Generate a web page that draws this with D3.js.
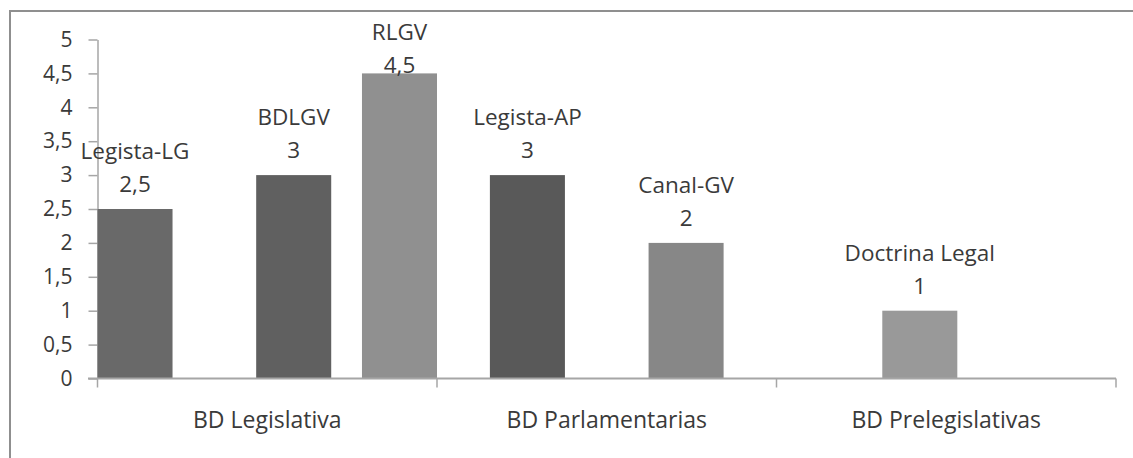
<!DOCTYPE html>
<html>
<head>
<meta charset="utf-8">
<script src="https://cdn.jsdelivr.net/npm/d3@7"></script>
<style>
  body { margin: 0; background: #fff; }
  svg { display: block; font-family: "Open Sans", sans-serif; }
</style>
</head>
<body>
<div id="chartDiv"></div>
<script>
// categories on the x axis
var categories = ["BD Legislativa", "BD Parlamentarias", "BD Prelegislativas"];
// one series per data base, each one only has a value in its own category
var series = ["Legista-LG", "Legista-AP", "Doctrina Legal", "BDLGV", "Canal-GV", "RLGV"];
var seriesCategory = ["BD Legislativa", "BD Parlamentarias", "BD Prelegislativas",
                      "BD Legislativa", "BD Parlamentarias", "BD Legislativa"];
var values = [2.5, 3, 1, 3, 2, 4.5];
var yTicks = [0, 0.5, 1, 1.5, 2, 2.5, 3, 3.5, 4, 4.5, 5];
var colors = ["#696969", "#595959", "#999999", "#606060", "#878787", "#909090"];

var width = 1133,
    height = 458;

var svg = d3.select("#chartDiv")
    .append("svg")
    .attr("width", width)
    .attr("height", height);

// chart frame (cut off at right and bottom like the original)
svg.append("path")
    .attr("d", "M10," + (height + 5) + "V11H" + (width + 5))
    .attr("fill", "none")
    .attr("stroke", "#8f8f8f")
    .attr("stroke-width", 2);

// spanish number format, comma as decimal mark
var locale = d3.formatLocale({decimal: ",", thousands: ".", grouping: [3], currency: ["", "€"]});
var fmt = locale.format("~g");

var x0 = d3.scaleBand()
    .domain(categories)
    .range([97.5, 1116])
    .padding(0);

var barW = x0.bandwidth() * 0.221;

//series slots overlap inside each category
var x1 = d3.scalePoint()
    .domain(series)
    .range([0, x0.bandwidth() - barW]);

var y = d3.scaleLinear()
    .domain([0, 5])
    .range([378.5, 39.5]);

var axisColor = "#a6a6a6";
var textColor = "#3a3a3a";

// y axis
var yAxis = svg.append("g")
    .attr("transform", "translate(97.5,0)")
    .call(d3.axisLeft(y)
        .tickValues(yTicks)
        .tickFormat(fmt)
        .tickSize(9)
        .tickSizeOuter(0)
        .tickPadding(16));
yAxis.select(".domain").attr("stroke", axisColor).attr("stroke-width", 1.5);
yAxis.selectAll(".tick line").attr("stroke", axisColor).attr("stroke-width", 1.5);
yAxis.selectAll(".tick text")
    .attr("fill", textColor)
    .style("font-size", "21px")
    .style("font-family", "'Open Sans', sans-serif");

// bars
var data = series.map(function (s, i) {
    return {name: s, cat: seriesCategory[i], value: values[i], color: colors[i]};
});

svg.append("g")
    .selectAll("rect")
    .data(data)
    .enter().append("rect")
    .attr("x", function (d) { return x0(d.cat) + x1(d.name); })
    .attr("y", function (d) { return y(d.value); })
    .attr("width", barW)
    .attr("height", function (d) { return y(0) - y(d.value); })
    .attr("fill", function (d) { return d.color; });

// x axis
var xAxis = svg.append("g")
    .attr("transform", "translate(0," + y(0) + ")")
    .call(d3.axisBottom(x0).tickSize(0).tickPadding(33));
xAxis.select(".domain").remove();
xAxis.selectAll(".tick text")
    .attr("fill", textColor)
    .style("font-size", "23px")
    .style("font-family", "'Open Sans', sans-serif");

svg.append("line")
    .attr("x1", 88).attr("x2", x0.range()[1])
    .attr("y1", y(0)).attr("y2", y(0))
    .attr("stroke", axisColor)
    .attr("stroke-width", 2);

var bounds = categories.map(function (c) { return x0(c); }).concat([x0.range()[1]]);
svg.append("g")
    .selectAll("line")
    .data(bounds)
    .enter().append("line")
    .attr("x1", function (d) { return d; })
    .attr("x2", function (d) { return d; })
    .attr("y1", y(0))
    .attr("y2", y(0) + 9)
    .attr("stroke", axisColor)
    .attr("stroke-width", 1.5);

// data labels: series name over value, pushed down when they would leave the plot
var labels = svg.append("g")
    .selectAll("text")
    .data(data)
    .enter().append("text")
    .attr("text-anchor", "middle")
    .attr("fill", textColor)
    .style("font-size", "22.5px")
    .attr("x", function (d) { return x0(d.cat) + x1(d.name) + barW / 2; });

labels.each(function (d) {
    var valueBase = y(d.value) - 17;
    var nameBase = Math.max(valueBase - 33, 40);
    valueBase = nameBase + 33;
    var t = d3.select(this);
    t.append("tspan")
        .attr("x", t.attr("x"))
        .attr("y", nameBase)
        .text(d.name);
    t.append("tspan")
        .attr("x", t.attr("x"))
        .attr("y", valueBase)
        .text(fmt(d.value));
});
</script>
</body>
</html>
